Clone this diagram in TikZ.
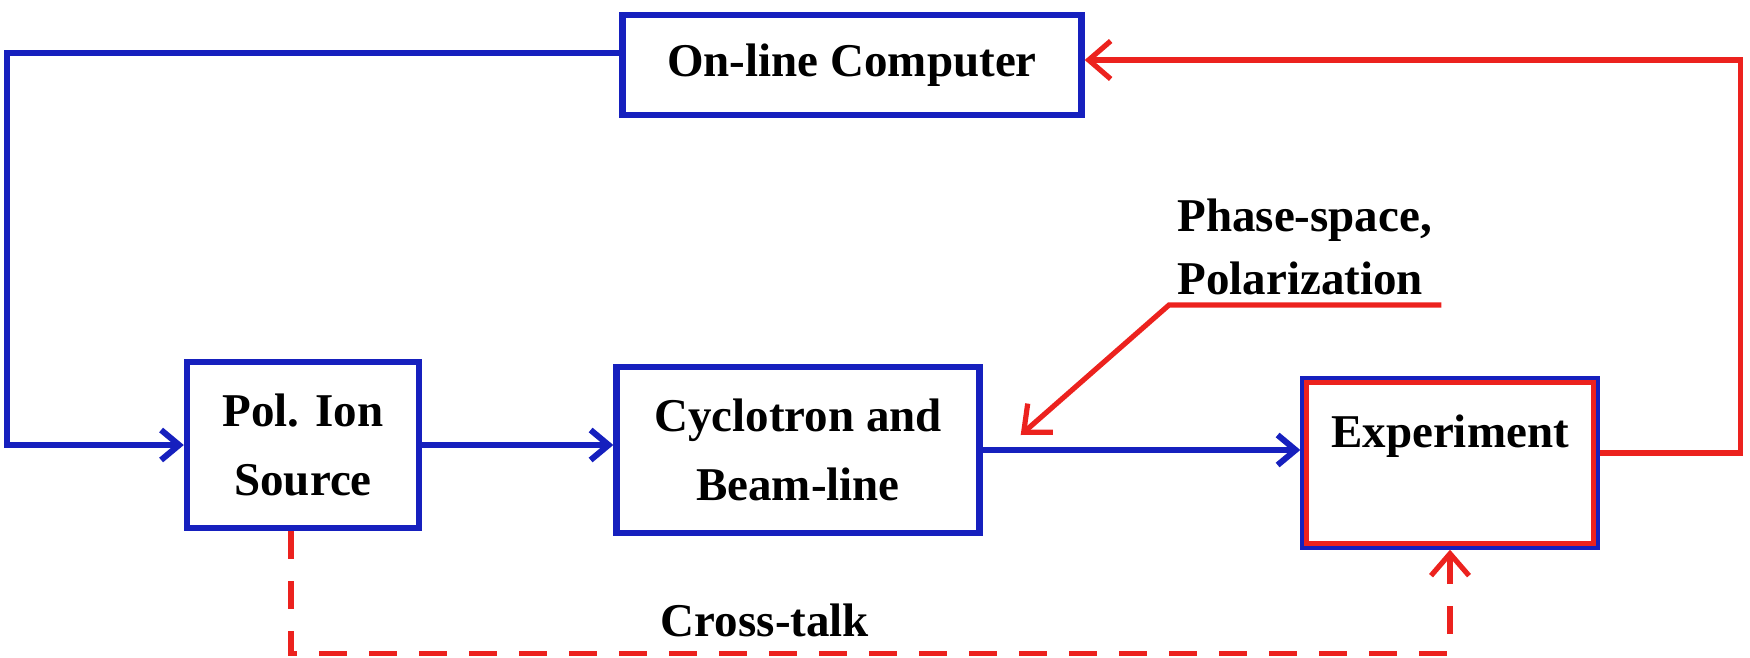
\documentclass[tikz,border=0pt]{standalone}
\usepackage{fontspec}
\setmainfont{Liberation Serif}
\usepackage{tikz}
\usetikzlibrary{arrows.meta,calc}

\begin{document}
\begin{tikzpicture}[x=0.5pt,y=0.5pt,yscale=-1,xscale=1,
  txt/.style={font=\fontsize{23.5}{34.5}\selectfont\bfseries, inner sep=0pt},
  bluebox/.style={txt, draw={rgb, 255:red, 22; green, 32; blue, 190}, line width=3.2pt, align=center},
  blueline/.style={draw={rgb, 255:red, 22; green, 32; blue, 190}, line width=3pt, -{Straight Barb[length=9pt,width=15pt]}},
  redline/.style={draw={rgb, 255:red, 236; green, 34; blue, 30}, line width=2.6pt},
  redarrow/.style={redline, -{Straight Barb[length=11pt,width=19pt]}},
  reddash/.style={redarrow, dash pattern=on 14pt off 11pt}]
\useasboundingbox (0,0) rectangle (1750,658);

% Boxes
\node[bluebox, minimum width=229.5pt, minimum height=50pt] (comp) at (852,65) {On-line Computer};
\node[bluebox, minimum width=116pt, minimum height=83pt] (source) at (303,445) {Pol. Ion\\Source};
\node[bluebox, minimum width=181.5pt, minimum height=83pt] (cyclo) at (798,450) {Cyclotron and\\Beam-line};
\node[bluebox, minimum width=146.5pt, minimum height=83.5pt, text height=12pt, text depth=28pt] (expt) at (1450,463) {Experiment};
%Inner red frame
\draw[redline] ($(expt.north west)+(6,6)$) rectangle ($(expt.south east)+(-6,-6)$);

% Text Node
\node[txt, align=left, anchor=south west, font=\fontsize{23.5}{31.5}\selectfont\bfseries] (phase) at (1177,295) {Phase-space,\\Polarization};
% Text Node
\node[txt] (xtalk) at (765,620) {Cross-talk};

%Computer to ion source
\draw[blueline] ([yshift=-6pt]comp.west) -- ++(-612,0) |- (source.west);
%Ion source to cyclotron
\draw[blueline] (source.east) -- (source.east -| cyclo.west);
%Cyclotron to experiment
\draw[blueline] (cyclo.east) -- (cyclo.east -| expt.west);
%Experiment back to computer
\draw[redarrow] ([yshift=-5pt]expt.east) -- ++(141,0) |- ([yshift=-2.5pt]comp.east);
%Cross-talk
\draw[reddash] ([xshift=-6pt]source.south) -- ++(0,122) -| (expt.south);
%Phase-space pointer
\coordinate (hit) at ($(cyclo.east)+(38,-15)$);
\draw[redarrow] ($(phase.south east)+(9,10)$) -- ($(phase.south west)+(-8,10)$) -- (hit);

\end{tikzpicture}
\end{document}
